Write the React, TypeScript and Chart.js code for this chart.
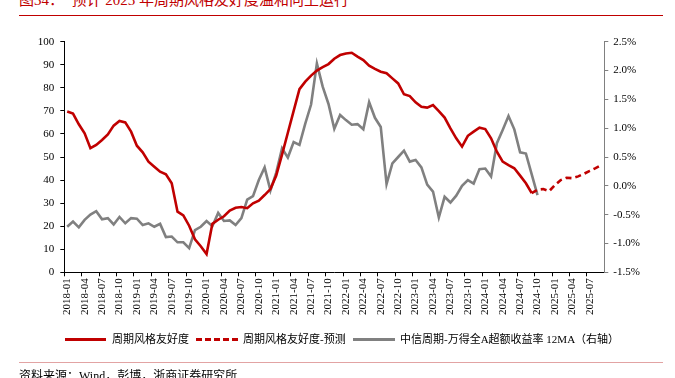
import React, { useEffect, useRef } from 'react';
import { Chart, registerables } from 'chart.js';

Chart.register(...registerables);

// ---------- data ----------
const firstYear = 2018;
const monthCount = 93; // 2018-01 .. 2025-09
const categories: string[] = [];
for (let i = 0; i < monthCount; i++) {
  const y = firstYear + Math.floor(i / 12);
  const m = (i % 12) + 1;
  categories.push(`${y}-${m < 10 ? '0' + m : m}`);
}

// 周期风格友好度 (left axis), 2018-01 .. 2024-09
const friendlyActual = [
  69.7, 68.8, 64.2, 60.3, 53.8, 55.2, 57.4, 59.8, 63.6, 65.6,
  65.0, 61.0, 54.9, 52.0, 48.0, 45.8, 43.6, 42.5, 38.6, 26.3,
  24.7, 20.2, 14.3, 11.3, 7.9, 21.0, 22.8, 24.3, 26.8, 28.0,
  28.3, 27.8, 29.9, 31.1, 33.5, 36.1, 42.0, 51.0, 60.5, 70.0,
  79.4, 82.7, 85.3, 87.5, 89.0, 90.3, 92.6, 94.2, 94.9, 95.2,
  93.5, 92.0, 89.6, 88.2, 87.0, 86.3, 84.1, 81.9, 77.2, 76.4,
  73.7, 71.8, 71.4, 72.5, 69.9, 67.1, 62.4, 58.1, 54.5, 59.2,
  61.0, 62.7, 62.1, 58.1, 52.3, 48.0, 46.5, 45.1, 41.9, 38.6,
  34.3,
];

// 周期风格友好度-预测 (left axis), 2024-09 .. 2025-09
const forecastStart = 80;
const friendlyForecast = [34.3, 35.8, 36.1, 35.2, 37.8, 40.0, 41.0, 40.8, 41.6, 42.7, 44.0, 45.2, 46.5];

// 中信周期-万得全A超额收益率 12MA (right axis, %), 2018-01 .. 2024-10
const excessReturn = [
  -0.71, -0.62, -0.72, -0.59, -0.50, -0.44, -0.58, -0.56, -0.67, -0.54,
  -0.65, -0.56, -0.57, -0.68, -0.65, -0.71, -0.66, -0.89, -0.88, -0.98,
  -0.98, -1.08, -0.77, -0.71, -0.61, -0.70, -0.47, -0.61, -0.60, -0.68,
  -0.56, -0.24, -0.18, 0.10, 0.32, -0.08, 0.23, 0.65, 0.49, 0.76,
  0.71, 1.08, 1.41, 2.12, 1.72, 1.42, 0.99, 1.23, 1.14, 1.06,
  1.07, 0.98, 1.45, 1.18, 1.02, 0.03, 0.39, 0.50, 0.61, 0.42,
  0.45, 0.32, 0.02, -0.10, -0.55, -0.19, -0.29, -0.17, 0.00, 0.10,
  0.04, 0.29, 0.30, 0.16, 0.74, 0.97, 1.21, 0.98, 0.58, 0.56,
  0.20, -0.16,
];

const seriesNames = ['周期风格友好度', '周期风格友好度-预测', '中信周期-万得全A超额收益率 12MA（右轴）'];
const titleText = '图34：  预计 2025 年周期风格友好度温和向上运行';
const sourceText = '资料来源：Wind，彭博，浙商证券研究所';

const RED = '#C00000';
const GRAY = '#808080';
const SERIF = '"Liberation Serif", "Times New Roman", "Noto Sans CJK SC", serif';
const CJK = '"Liberation Serif", "Noto Sans CJK SC", serif';

function padTo<T>(arr: (T | null)[], start: number, total: number): (T | null)[] {
  const out: (T | null)[] = new Array(total).fill(null);
  arr.forEach((v, i) => { out[start + i] = v; });
  return out;
}

export default function App() {
  const ref = useRef<HTMLCanvasElement | null>(null);

  useEffect(() => {
    if (!ref.current) return;
    const chart = new Chart(ref.current, {
      type: 'line',
      data: {
        labels: categories,
        datasets: [
          {
            label: seriesNames[0],
            data: padTo(friendlyActual, 0, monthCount),
            borderColor: RED,
            borderWidth: 2.6,
            pointRadius: 0,
            tension: 0,
            yAxisID: 'y',
            spanGaps: false,
          },
          {
            label: seriesNames[1],
            data: padTo(friendlyForecast, forecastStart, monthCount),
            borderColor: RED,
            borderWidth: 2.6,
            borderDash: [6, 4],
            pointRadius: 0,
            tension: 0,
            yAxisID: 'y',
          },
          {
            label: seriesNames[2],
            data: padTo(excessReturn, 0, monthCount),
            borderColor: GRAY,
            borderWidth: 2.6,
            pointRadius: 0,
            tension: 0,
            yAxisID: 'y1',
          },
        ],
      },
      options: {
        responsive: false,
        animation: false,
        devicePixelRatio: 1,
        layout: { padding: { left: 0, right: 0, top: 41.7, bottom: 45.7 } },
        plugins: {
          legend: { display: false },
          title: { display: false },
          tooltip: { enabled: false },
        },
        scales: {
          x: {
            type: 'category',
            offset: true,
            grid: {
              offset: true,
              drawOnChartArea: false,
              drawTicks: true,
              tickLength: 4,
              color: (ctx: any) => (ctx.index % 3 === 0 ? '#000' : 'rgba(0,0,0,0)'),
            },
            border: { color: '#000', width: 1 },
            ticks: {
              autoSkip: false,
              minRotation: 90,
              maxRotation: 90,
              padding: 2,
              color: '#000',
              font: { family: SERIF, size: 11 },
              callback: (_v: any, i: number) => (i % 3 === 0 ? categories[i] : ''),
            },
            afterFit: (s: any) => { s.height = 60; },
          },
          y: {
            position: 'left',
            min: 0,
            max: 100,
            grid: { drawOnChartArea: false, drawTicks: true, tickLength: 4, color: '#000' },
            border: { color: '#000', width: 1 },
            ticks: {
              stepSize: 10,
              padding: 6,
              color: '#000',
              font: { family: SERIF, size: 11 },
            },
            afterFit: (s: any) => { s.width = 64.3; },
          },
          y1: {
            position: 'right',
            min: -1.5,
            max: 2.5,
            grid: { drawOnChartArea: false, drawTicks: true, tickLength: 4, color: GRAY },
            border: { color: GRAY, width: 1 },
            ticks: {
              stepSize: 0.5,
              padding: 5,
              color: '#000',
              font: { family: SERIF, size: 11 },
              callback: (v: any) => `${Number(v).toFixed(1)}%`,
            },
            afterFit: (s: any) => { s.width = 70.7; },
          },
        },
      },
    });
    return () => chart.destroy();
  }, []);

  const legendText: React.CSSProperties = {
    position: 'absolute',
    top: 331,
    fontFamily: CJK,
    fontSize: 11,
    lineHeight: '16px',
    color: '#000',
    whiteSpace: 'nowrap',
  };
  const sample = (left: number, width: number, color: string, dashed: boolean): React.CSSProperties => ({
    position: 'absolute',
    left,
    top: 338,
    width,
    height: 0,
    borderTop: `3px ${dashed ? 'dashed' : 'solid'} ${color}`,
  });

  return (
    <div style={{ position: 'absolute', left: 0, top: 0, width: 675, height: 378, overflow: 'hidden', background: '#fff' }}>
      <div style={{ position: 'absolute', left: 19, top: -8, fontFamily: CJK, fontSize: 15, lineHeight: '16px', color: RED, whiteSpace: 'pre' }}>
        {titleText}
      </div>
      <div style={{ position: 'absolute', left: 19, top: 15, width: 644, height: 0, borderTop: `1.5px solid ${RED}` }} />
      <canvas ref={ref} width={675} height={378} style={{ position: 'absolute', left: 0, top: 0, width: 675, height: 378 }} />
      <div style={sample(65, 41, RED, false)} />
      <div style={{ ...legendText, left: 112 }}>{seriesNames[0]}</div>
      <div style={sample(196, 42, RED, true)} />
      <div style={{ ...legendText, left: 243 }}>{seriesNames[1]}</div>
      <div style={sample(353, 42, GRAY, false)} />
      <div style={{ ...legendText, left: 400 }}>{seriesNames[2]}</div>
      <div style={{ position: 'absolute', left: 19, top: 362, width: 644, height: 0, borderTop: '1.5px solid #E2A3A3' }} />
      <div style={{ position: 'absolute', left: 19, top: 368, fontFamily: CJK, fontSize: 12, lineHeight: '16px', color: '#000', whiteSpace: 'nowrap' }}>
        {sourceText}
      </div>
    </div>
  );
}
